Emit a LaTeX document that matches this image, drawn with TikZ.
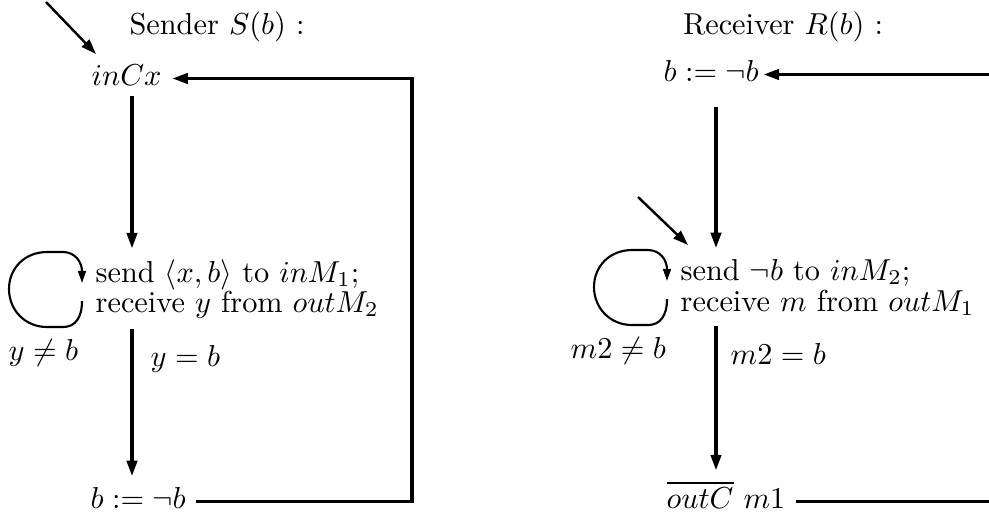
\documentclass[tikz,border=0pt]{standalone}
\usetikzlibrary{arrows.meta}
\begin{document}
\begin{tikzpicture}[x=0.33pt,y=-0.33pt,
  txt/.style={anchor=base west},
  mainline/.style={line width=1.15pt},
  mainarrow/.style={line width=1.15pt,-{Triangle[length=5.2pt,width=3.4pt]}},
  thinarrow/.style={line width=0.8pt,-{Triangle[length=5pt,width=3.4pt]}},
  looparrow/.style={line width=0.7pt,-{Triangle[length=4pt,width=2.6pt]}}]
\useasboundingbox (0,0) rectangle (989,523);

% titles
\node[anchor=base] (tS) at (217,34) {Sender $S(b)$ :};
\node[anchor=base] (tR) at (783,34) {Receiver $R(b)$ :};

% sender nodes
\node[txt] (inC) at (81,85) {$inCx$};
\node[txt] (sL1) at (85,282) {send $\langle x,b\rangle$ to $inM_1$;};
\node[txt] (sL2) at (85,312) {receive $y$ from $outM_2$};
\node[txt] (bL) at (80,508) {$b := \neg b$};
\node[txt] (yne) at (-2,360) {$y\neq b$};
\node[txt] (yeq) at (140,366) {$y=b$};

% receiver nodes
\node[txt] (bR) at (653,81) {$b := \neg b$};
\node[txt] (sR1) at (670,280) {send $\neg b$ to $inM_2$;};
\node[txt] (sR2) at (670,311) {receive $m$ from $outM_1$};
\node[txt] (oR) at (656,508) {$\overline{outC}\ m1$};
\node[txt] (mne) at (560,358) {$m2\neq b$};
\node[txt] (meq) at (720,364) {$m2=b$};

% helper coordinates
\coordinate (cL) at (132,0);
\coordinate (cR) at (716,0);
\coordinate (frameX) at (412,0);
\coordinate (startL) at (46,2);
\coordinate (endL) at (96,54);
\coordinate (startR) at (638,197);
\coordinate (endR) at (688,245);
\coordinate (rightEdge) at (989,0);

% sender connectors
\draw[thinarrow] (startL) -- (endL);
\draw[mainarrow] (inC.south -| cL) -- (sL1.north -| cL);
\draw[mainarrow] (sL2.south -| cL) -- (bL.north -| cL);
\draw[mainarrow] (bL.mid east) -- (bL.mid east -| frameX) -- (inC.mid east -| frameX) -- (inC.mid east);
\draw[looparrow] (82,301) .. controls (82,318) and (75,327) .. (63,327) -- (47,327)
  .. controls (25,327) and (9,310) .. (9,289) .. controls (9,268) and (25,252) .. (47,252)
  -- (63,252) .. controls (75,252) and (82,262) .. (82,283);

% receiver connectors
\draw[thinarrow] (startR) -- (endR);
\draw[mainarrow,shorten >=-2pt] (bR.mid east -| rightEdge) -- (bR.mid east);
\draw[mainarrow,shorten <=5pt] (bR.south -| cR) -- (sR1.north -| cR);
\draw[mainarrow] (sR2.south -| cR) -- (oR.north -| cR);
\draw[mainline] (oR.mid east) -- (oR.mid east -| rightEdge);
\begin{scope}[shift={(585,-2)}]
\draw[looparrow] (82,301) .. controls (82,318) and (75,327) .. (63,327) -- (47,327)
  .. controls (25,327) and (9,310) .. (9,289) .. controls (9,268) and (25,252) .. (47,252)
  -- (63,252) .. controls (75,252) and (82,262) .. (82,283);
\end{scope}
\end{tikzpicture}
\end{document}
